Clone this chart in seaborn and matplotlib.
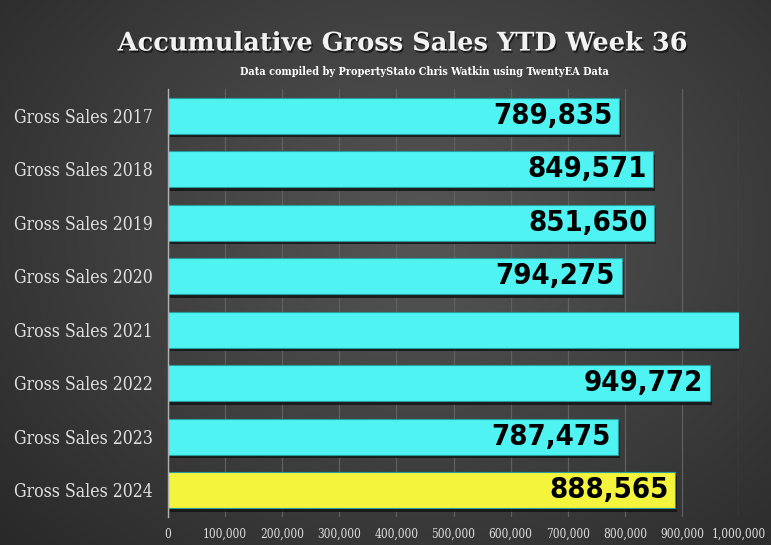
import numpy as np
import pandas as pd
import matplotlib
matplotlib.use("Agg")
import matplotlib.pyplot as plt
import matplotlib.patheffects as pe
import seaborn as sns

categories = ["Gross Sales 2017", "Gross Sales 2018", "Gross Sales 2019", "Gross Sales 2020",
              "Gross Sales 2021", "Gross Sales 2022", "Gross Sales 2023", "Gross Sales 2024"]
values = [789835, 849571, 851650, 794275, 1210000, 949772, 787475, 888565]
bar_colors = ["#4ef3f2"] * 7 + ["#f4f43c"]
x_ticks = list(range(0, 1000001, 100000))
x_tick_labels = ["0"] + [f"{v:,}" for v in x_ticks[1:]]
title = "Accumulative Gross Sales YTD Week 36"
subtitle = "Data compiled by PropertyStato Chris Watkin using TwentyEA Data"

sns.set_theme(style="white")
plt.rcParams["font.family"] = ["DejaVu Serif", "DejaVu Sans"]

fig = plt.figure(figsize=(7.71, 5.45), dpi=100)

# background radial gradient
bg = fig.add_axes([0, 0, 1, 1], zorder=-10)
yy, xx = np.mgrid[0:1:300j, 0:1:420j]
r = np.sqrt(((xx - 0.55) / 0.8) ** 2 + ((yy - 0.42) / 0.9) ** 2)
inner = np.array([0x56, 0x56, 0x56]) / 255
outer = np.array([0x26, 0x26, 0x26]) / 255
t = np.clip(r, 0, 1)[..., None]
img = inner * (1 - t) + outer * t
bg.imshow(img, aspect="auto", extent=[0, 1, 0, 1], origin="upper")
bg.axis("off")

ax = fig.add_axes([168 / 771, 1 - 517 / 545, (739 - 168) / 771, (517 - 89) / 545])
ax.patch.set_alpha(0)

df = pd.DataFrame({"category": categories, "value": values})
sns.barplot(data=df, y="category", x="value", hue="category", palette=bar_colors,
            legend=False, width=0.68, ax=ax, saturation=1)

for p in ax.patches:
    p.set_edgecolor("#2a9e9e")
    p.set_linewidth(0.8)
    p.set_path_effects([pe.SimplePatchShadow(offset=(1.5, -2.5), shadow_rgbFace="#111111", alpha=0.8),
                        pe.Normal()])

xmax = 1000000
ax.set_xlim(0, xmax)
ax.set_xticks(x_ticks)
ax.set_xticklabels(x_tick_labels)
ax.grid(axis="x", color="#606060", linewidth=0.9)
ax.set_axisbelow(True)
for s in ["top", "right", "bottom"]:
    ax.spines[s].set_visible(False)
ax.spines["left"].set_color("#b0b0b0")
ax.spines["left"].set_linewidth(1.0)
ax.set_xlabel("")
ax.set_ylabel("")
ax.tick_params(axis="x", colors="#dddddd", length=0, pad=8)
ax.tick_params(axis="y", colors="#dddddd", length=0, pad=11)
for lab in ax.get_xticklabels():
    lab.set_fontfamily(["DejaVu Serif"])
    lab.set_fontstretch("condensed")
    lab.set_fontsize(8.5)
for lab in ax.get_yticklabels():
    lab.set_fontfamily(["DejaVu Serif"])
    lab.set_fontstretch("condensed")
    lab.set_fontsize(12.7)
    lab.set_color("#e0e0e0")

for i, v in enumerate(values):
    if v < xmax:
        ax.text(v - 12000, i, f"{v:,}", ha="right", va="center", color="black",
                fontsize=21, fontweight="bold", fontstretch="condensed",
                family=["DejaVu Sans"])

fig.text(0.523, 0.921, title, ha="center", va="center", color="#f2f2f2", fontsize=18.5,
         fontweight="bold", family=["DejaVu Serif"],
         path_effects=[pe.withSimplePatchShadow(offset=(1, -1.5), shadow_rgbFace="black", alpha=0.6)])
fig.text(0.551, 0.868, subtitle, ha="center", va="center", color="white", fontsize=7.8,
         fontweight="bold", fontstretch="condensed", family=["DejaVu Serif"])

fig.savefig("out.png", dpi=100)
